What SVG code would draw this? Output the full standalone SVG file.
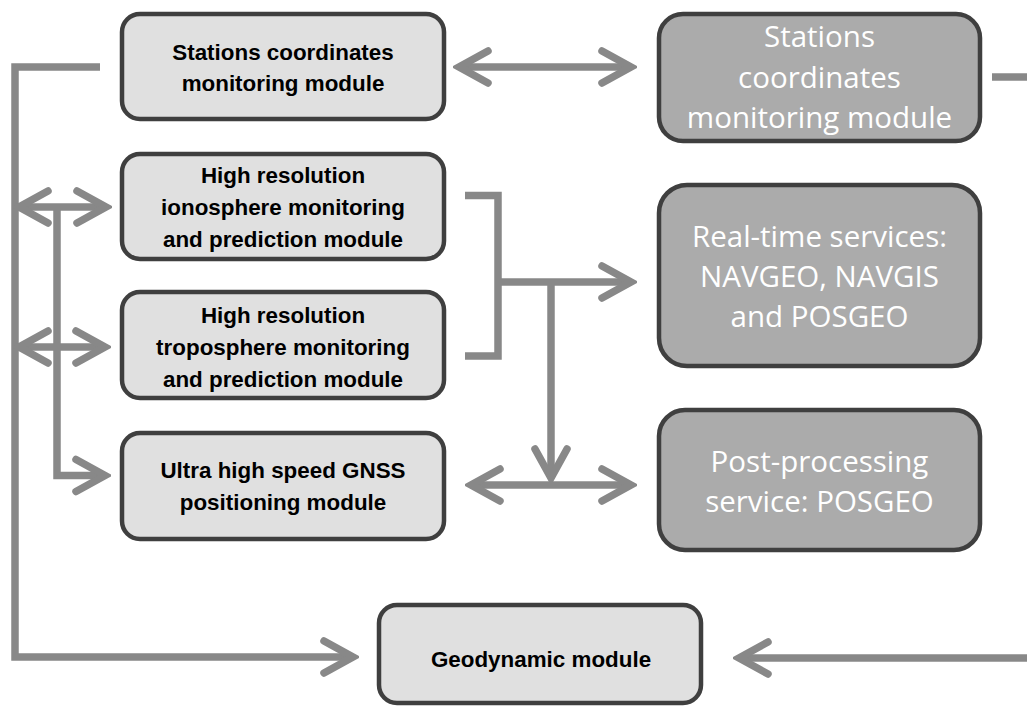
<svg xmlns="http://www.w3.org/2000/svg" width="1027" height="706" viewBox="0 0 1027 706">
<style>
.lb{fill:#e0e0e0;stroke:#3f3f3f;stroke-width:4.5}
.db{fill:#ababab;stroke:#3f3f3f;stroke-width:4.5}
.lt{font-family:"Liberation Sans",Arial,sans-serif;font-weight:bold;font-size:22.4px;fill:#000;text-anchor:middle}
.dt{font-family:"Open Sans","Liberation Sans",sans-serif;font-size:29.5px;fill:#fff;text-anchor:middle}
.c{fill:none;stroke:#888;stroke-width:7.5}
</style>
<defs>
<marker id="ah" markerUnits="userSpaceOnUse" viewBox="-40 -22 46 44" markerWidth="46" markerHeight="44" refX="0" refY="0" orient="auto-start-reverse">
<path d="M-29 -16 L0 0 L-29 16" fill="none" stroke="#888" stroke-width="7.5" stroke-linecap="round" stroke-linejoin="miter"/>
</marker>
</defs>
<g id="connectors">
<path class="c" d="M100 67 H15 V657 H353" marker-end="url(#ah)"/>
<path class="c" d="M19 207 H106" marker-start="url(#ah)" marker-end="url(#ah)"/>
<path class="c" d="M19 347 H105" marker-start="url(#ah)" marker-end="url(#ah)"/>
<path class="c" d="M57 207 V475.5 H105" marker-end="url(#ah)"/>
<path class="c" d="M459 67 H631" marker-start="url(#ah)" marker-end="url(#ah)"/>
<path class="c" d="M992 77 H1027"/>
<path class="c" d="M1027 658 H739" marker-end="url(#ah)"/>
<path class="c" d="M465 195.5 H498 V356 H465"/>
<path class="c" d="M498 282 H631" marker-end="url(#ah)"/>
<path class="c" d="M551 282 V478" marker-end="url(#ah)"/>
<path class="c" d="M471 485 H631" marker-start="url(#ah)" marker-end="url(#ah)"/>
</g>
<g id="stations-left">
<rect class="lb" x="122" y="14" width="322" height="105" rx="18"/>
<text class="lt" x="283" y="60">Stations coordinates</text>
<text class="lt" x="283" y="91">monitoring module</text>
</g>
<g id="ionosphere">
<rect class="lb" x="122" y="154" width="322" height="105" rx="18"/>
<text class="lt" x="283" y="183">High resolution</text>
<text class="lt" x="283" y="215">ionosphere monitoring</text>
<text class="lt" x="283" y="247">and prediction module</text>
</g>
<g id="troposphere">
<rect class="lb" x="122" y="292" width="322" height="106" rx="18"/>
<text class="lt" x="283" y="323">High resolution</text>
<text class="lt" x="283" y="355">troposphere monitoring</text>
<text class="lt" x="283" y="387">and prediction module</text>
</g>
<g id="gnss">
<rect class="lb" x="122" y="433" width="322" height="106" rx="18"/>
<text class="lt" x="283" y="478">Ultra high speed GNSS</text>
<text class="lt" x="283" y="510">positioning module</text>
</g>
<g id="geodynamic">
<rect class="lb" x="379" y="605" width="322" height="98" rx="18"/>
<text class="lt" x="541" y="667">Geodynamic module</text>
</g>
<g id="stations-right">
<rect class="db" x="659" y="14" width="321" height="127" rx="24"/>
<text class="dt" x="819.5" y="47">Stations</text>
<text class="dt" x="819.5" y="88">coordinates</text>
<text class="dt" x="819.5" y="128">monitoring module</text>
</g>
<g id="realtime">
<rect class="db" x="659" y="185" width="321" height="181" rx="28"/>
<text class="dt" x="819.5" y="247">Real-time services:</text>
<text class="dt" x="819.5" y="287">NAVGEO, NAVGIS</text>
<text class="dt" x="819.5" y="327">and POSGEO</text>
</g>
<g id="postprocessing">
<rect class="db" x="659" y="410" width="321" height="140" rx="26"/>
<text class="dt" x="819.5" y="472">Post-processing</text>
<text class="dt" x="819.5" y="512">service: POSGEO</text>
</g>
</svg>
